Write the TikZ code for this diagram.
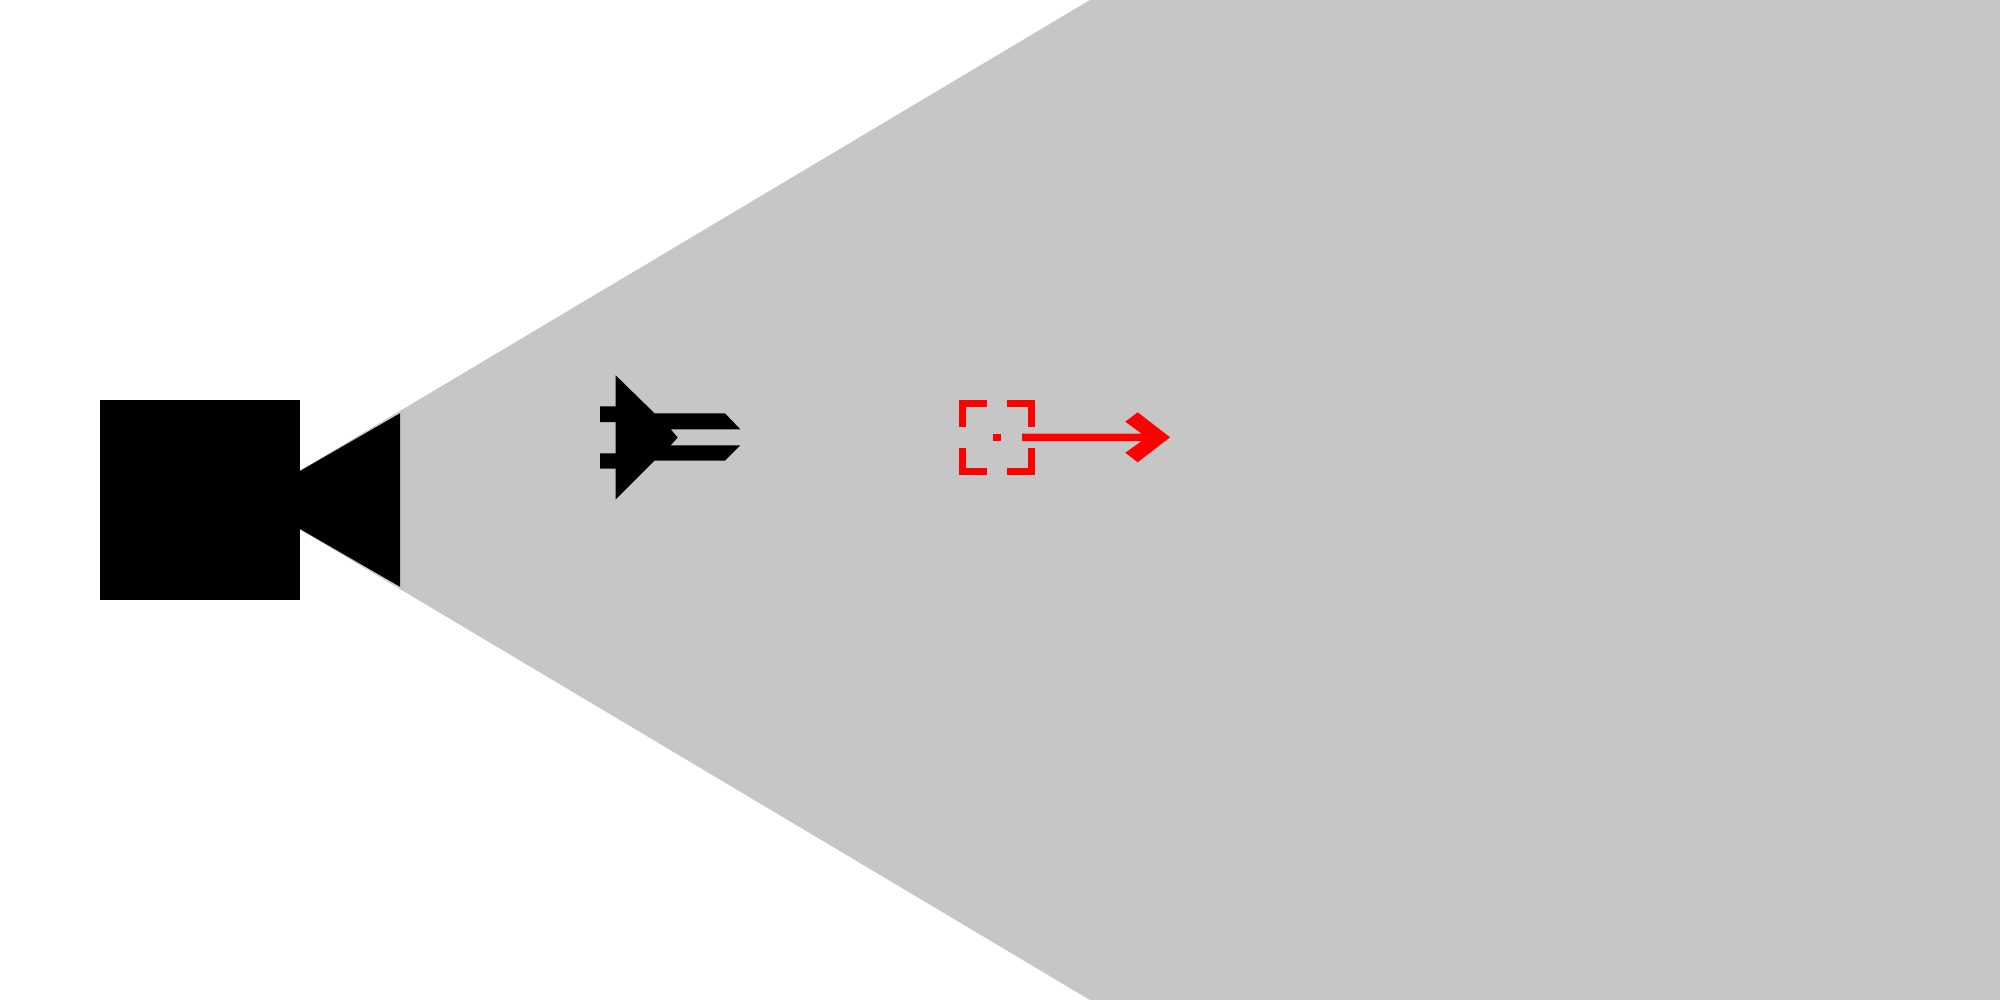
\documentclass[tikz,border=0pt]{standalone}
\usepackage{xcolor}
\usepackage{tikz}
\definecolor{conegray}{HTML}{C6C6C6}
\definecolor{markred}{HTML}{FF0000}

\begin{document}
\begin{tikzpicture}[x=0.01cm, y=-0.01cm, cone/.style={fill=conegray}, solid part/.style={fill=black}, mark part/.style={fill=markred}, bracket/.style={draw=markred, line width=0.067cm, miter limit=10}]
		\useasboundingbox (0,0) rectangle (2000,1000);
		\fill[white] (0,0) rectangle (2000,1000);
		% view
		\path[cone] (300,470.5) -- (1090,0) -- (2000,0) -- (2000,1000) -- (1090,1000) -- (300,529.5) -- cycle;
		% camera
		\path[solid part] (100,400) rectangle (300,600);
		\path[solid part] (300,471) -- (400,413.3) -- (400,586.7) -- (300,529) -- cycle;
		% plane
		\path[solid part] (615.7,375.3) -- (654.5,413.3) -- (725,413.3) -- (740.3,429.3) -- (670.7,429.3) -- (677.7,437.5) -- (670.7,445.3) -- (740.3,445.3) -- (725,460.7) -- (654.5,460.7) -- (615.7,499.3) -- (615.7,468.7) -- (600,468.7) -- (600,453.3) -- (615.7,453.3) -- (615.7,422) -- (600,422) -- (600,406.3) -- (615.7,406.3) -- cycle;
		% target frame
		\foreach \cx/\cy/\sx/\sy in {962.7/403.3/1/1, 1031.3/403.3/-1/1, 962.7/471.7/1/-1, 1031.3/471.7/-1/-1}
			\draw[bracket] (\cx,\cy+\sy*24) -- (\cx,\cy) -- (\cx+\sx*24,\cy);
		\path[mark part] (993.3,433.7) rectangle (1000.7,441);
		% heading
		\path[mark part] (1022,433.7) -- (1141.7,433.7) -- (1125.3,421.7) -- (1137.7,412.3) -- (1170,437.3) -- (1137.7,462.3) -- (1125.3,452.7) -- (1141.7,441) -- (1022,441) -- cycle;
	\end{tikzpicture}
\end{document}
